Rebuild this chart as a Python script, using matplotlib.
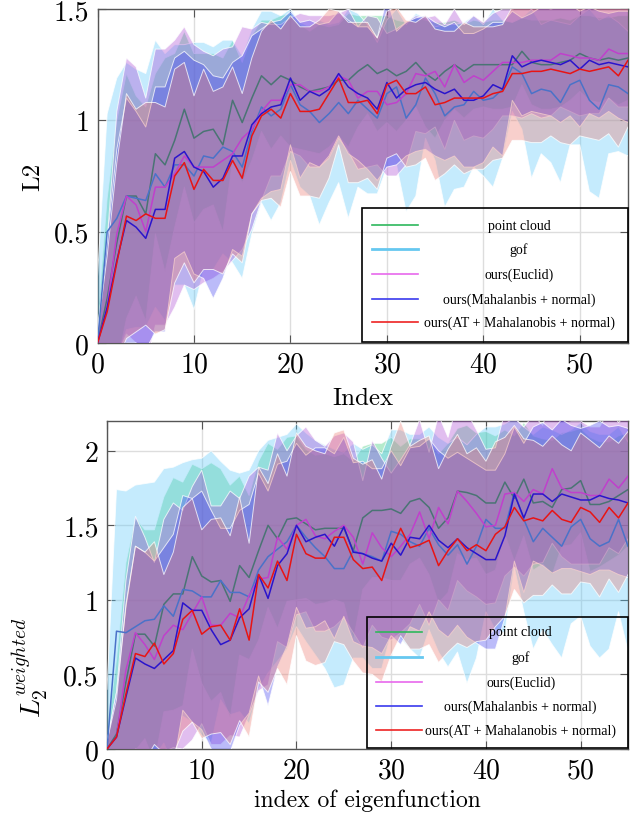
import numpy as np
import matplotlib
matplotlib.use("Agg")
import matplotlib.pyplot as plt
from matplotlib.lines import Line2D
from matplotlib.patches import Rectangle
from matplotlib.ticker import FuncFormatter

plt.rcParams['font.family'] = 'serif'
plt.rcParams['font.serif'] = ['cmr10']
plt.rcParams['mathtext.fontset'] = 'cm'
plt.rcParams['axes.formatter.use_mathtext'] = True

idx = list(range(56))

names = ["point cloud", "gof", "ours(Euclid)", "ours(Mahalanbis + normal)",
         "ours(AT + Mahalanobis + normal)"]
colors = ['#2eb85c', '#66c8f0', '#e868ec', '#3a3aee', '#ee2222']
fill_colors = ['#28c86e', '#5ac8fa', '#aa46d2', '#3c3cf0', '#eb786e']
# how the mean lines look once the later bands lie over them
line_colors = ['#4a7474', '#4a72c8', '#c040cc', '#2a14cc', '#e81414']

# ---- top panel (L2) ----
pc_top = [0.0, 0.2, 0.45, 0.66, 0.66, 0.58, 0.85, 0.80, 0.91, 1.05, 0.92, 0.95, 0.96, 0.89, 1.09, 0.99,
          1.10, 1.20, 1.16, 1.20, 1.18, 1.15, 1.13, 1.14, 1.15, 1.18, 1.18, 1.22, 1.25, 1.21, 1.23, 1.20,
          1.22, 1.26, 1.21, 1.18, 1.22, 1.25, 1.22, 1.25, 1.25, 1.25, 1.25, 1.25, 1.31, 1.26, 1.25, 1.25,
          1.26, 1.27, 1.30, 1.28, 1.27, 1.28, 1.27, 1.28]
gof_top = [0.0, 0.50, 0.56, 0.66, 0.65, 0.64, 0.76, 0.70, 0.80, 0.80, 0.75, 0.84, 0.83, 0.88, 0.86, 0.79,
           0.95, 1.06, 1.02, 1.05, 1.16, 1.07, 1.04, 0.99, 1.03, 1.08, 1.03, 1.09, 1.05, 1.01, 1.12, 1.15,
           1.01, 1.07, 1.19, 1.12, 1.02, 1.06, 1.07, 1.13, 1.09, 1.10, 1.14, 1.24, 1.21, 1.12, 1.14, 1.13,
           1.08, 1.16, 1.18, 1.09, 1.05, 1.16, 1.15, 1.12]
euc_top = [0.0, 0.16, 0.49, 0.66, 0.62, 0.50, 0.70, 0.70, 0.76, 0.84, 0.79, 0.79, 0.79, 0.82, 0.85, 0.92,
           0.96, 1.04, 1.09, 1.09, 1.16, 1.16, 1.13, 1.13, 1.15, 1.20, 1.18, 1.10, 1.13, 1.13, 1.07, 1.08,
           1.12, 1.21, 1.20, 1.22, 1.15, 1.25, 1.17, 1.20, 1.18, 1.22, 1.26, 1.26, 1.26, 1.27, 1.27, 1.27,
           1.30, 1.29, 1.28, 1.28, 1.27, 1.32, 1.30, 1.30]
mah_top = [0.0, 0.16, 0.37, 0.55, 0.52, 0.47, 0.60, 0.60, 0.83, 0.86, 0.79, 0.77, 0.70, 0.74, 0.84, 0.84,
           0.98, 1.03, 1.06, 1.07, 1.19, 1.09, 1.13, 1.11, 1.14, 1.21, 1.15, 1.12, 1.10, 1.05, 1.17, 1.10,
           1.14, 1.16, 1.17, 1.14, 1.12, 1.14, 1.09, 1.09, 1.11, 1.16, 1.14, 1.29, 1.24, 1.26, 1.27, 1.26,
           1.25, 1.27, 1.23, 1.27, 1.25, 1.26, 1.25, 1.24]
at_top = [0.0, 0.14, 0.36, 0.57, 0.55, 0.58, 0.56, 0.56, 0.75, 0.81, 0.69, 0.78, 0.73, 0.73, 0.82, 0.74,
          0.93, 1.02, 1.05, 1.01, 1.12, 1.04, 1.04, 1.05, 1.12, 1.19, 1.08, 1.08, 1.09, 1.03, 1.16, 1.18,
          1.12, 1.12, 1.15, 1.07, 1.08, 1.10, 1.10, 1.10, 1.10, 1.12, 1.13, 1.21, 1.21, 1.22, 1.22, 1.23,
          1.22, 1.21, 1.23, 1.22, 1.23, 1.24, 1.20, 1.27]

pc_top_std = [0.1, 0.45, 0.55, 0.55, 0.45, 0.48, 0.36, 0.48, 0.39, 0.35, 0.38, 0.35, 0.34, 0.39, 0.27, 0.27,
              0.28, 0.25, 0.29, 0.27, 0.30, 0.28, 0.27, 0.29, 0.27, 0.25, 0.30, 0.25, 0.22, 0.26, 0.24, 0.25,
              0.22, 0.20, 0.24, 0.26, 0.22, 0.20, 0.21, 0.20, 0.19, 0.20, 0.20, 0.19, 0.15, 0.19, 0.20, 0.20,
              0.20, 0.18, 0.17, 0.19, 0.19, 0.18, 0.20, 0.19]
gof_top_std = [0.3, 0.53, 0.63, 0.60, 0.58, 0.57, 0.60, 0.60, 0.54, 0.54, 0.60, 0.51, 0.50, 0.48, 0.50, 0.50,
               0.46, 0.43, 0.47, 0.42, 0.34, 0.37, 0.38, 0.46, 0.40, 0.36, 0.47, 0.39, 0.38, 0.34, 0.33, 0.35,
               0.42, 0.41, 0.27, 0.30, 0.41, 0.37, 0.37, 0.34, 0.34, 0.40, 0.31, 0.20, 0.25, 0.38, 0.29, 0.32,
               0.36, 0.27, 0.29, 0.41, 0.40, 0.31, 0.29, 0.28]
euc_top_std = [0.05, 0.30, 0.55, 0.62, 0.62, 0.60, 0.62, 0.62, 0.60, 0.58, 0.55, 0.52, 0.50, 0.50, 0.48, 0.50,
               0.45, 0.40, 0.34, 0.34, 0.30, 0.32, 0.34, 0.34, 0.32, 0.28, 0.32, 0.32, 0.34, 0.33, 0.32, 0.33,
               0.32, 0.26, 0.26, 0.25, 0.28, 0.25, 0.26, 0.27, 0.26, 0.26, 0.24, 0.24, 0.25, 0.24, 0.26, 0.25,
               0.24, 0.25, 0.26, 0.25, 0.24, 0.22, 0.24, 0.24]
mah_top_std = [0.05, 0.30, 0.50, 0.55, 0.52, 0.50, 0.55, 0.55, 0.45, 0.45, 0.48, 0.48, 0.50, 0.45, 0.42, 0.45,
               0.40, 0.38, 0.38, 0.38, 0.30, 0.35, 0.32, 0.32, 0.30, 0.28, 0.30, 0.30, 0.32, 0.32, 0.38, 0.30,
               0.30, 0.30, 0.30, 0.30, 0.30, 0.30, 0.30, 0.30, 0.30, 0.28, 0.30, 0.20, 0.22, 0.22, 0.24, 0.24,
               0.26, 0.25, 0.26, 0.24, 0.24, 0.22, 0.24, 0.25]
at_top_std = [0.05, 0.25, 0.45, 0.55, 0.50, 0.50, 0.52, 0.50, 0.48, 0.45, 0.42, 0.45, 0.40, 0.42, 0.42, 0.38,
              0.35, 0.38, 0.40, 0.40, 0.35, 0.38, 0.38, 0.40, 0.38, 0.30, 0.36, 0.36, 0.35, 0.34, 0.33, 0.33,
              0.33, 0.32, 0.32, 0.34, 0.32, 0.30, 0.34, 0.32, 0.32, 0.30, 0.30, 0.30, 0.30, 0.32, 0.32, 0.30,
              0.32, 0.32, 0.30, 0.30, 0.32, 0.30, 0.32, 0.30]

# ---- bottom panel (weighted L2) ----
pc_bot = [0.0, 0.10, 0.45, 0.77, 0.77, 0.69, 0.97, 1.04, 1.04, 1.29, 1.16, 1.12, 1.13, 0.99, 1.23, 1.15,
          1.33, 1.50, 1.41, 1.54, 1.55, 1.51, 1.47, 1.48, 1.48, 1.48, 1.33, 1.55, 1.60, 1.60, 1.61, 1.58,
          1.66, 1.68, 1.62, 1.48, 1.55, 1.73, 1.72, 1.70, 1.65, 1.65, 1.79, 1.68, 1.81, 1.65, 1.66, 1.62,
          1.74, 1.75, 1.80, 1.64, 1.64, 1.66, 1.70, 1.74]
gof_bot = [0.0, 0.79, 0.78, 0.82, 0.86, 0.87, 0.96, 0.89, 1.07, 1.06, 1.02, 1.02, 1.13, 1.05, 1.05, 1.02,
           1.20, 1.29, 1.34, 1.39, 1.50, 1.42, 1.35, 1.29, 1.21, 1.21, 1.33, 1.31, 1.29, 1.26, 1.46, 1.44,
           1.39, 1.36, 1.48, 1.37, 1.30, 1.37, 1.24, 1.36, 1.54, 1.48, 1.48, 1.72, 1.54, 1.39, 1.48, 1.42,
           1.36, 1.49, 1.54, 1.41, 1.36, 1.39, 1.54, 1.36]
euc_bot = [0.0, 0.08, 0.53, 0.78, 0.70, 0.60, 0.76, 0.83, 0.80, 0.91, 1.02, 0.83, 0.83, 0.91, 0.88, 1.03,
           1.14, 1.15, 1.42, 1.34, 1.50, 1.54, 1.43, 1.41, 1.46, 1.50, 1.42, 1.24, 1.45, 1.35, 1.29, 1.36,
           1.44, 1.59, 1.41, 1.62, 1.51, 1.73, 1.66, 1.58, 1.49, 1.50, 1.71, 1.72, 1.66, 1.74, 1.71, 1.88,
           1.75, 1.72, 1.72, 1.70, 1.70, 1.81, 1.75, 1.83]
mah_bot = [0.0, 0.08, 0.35, 0.61, 0.57, 0.54, 0.60, 0.66, 0.98, 0.93, 0.93, 0.80, 0.70, 0.73, 0.88, 0.94,
           1.17, 1.01, 1.23, 1.31, 1.50, 1.39, 1.42, 1.44, 1.36, 1.49, 1.32, 1.31, 1.28, 1.26, 1.38, 1.30,
           1.42, 1.41, 1.50, 1.40, 1.35, 1.41, 1.35, 1.31, 1.27, 1.27, 1.43, 1.71, 1.55, 1.71, 1.71, 1.66,
           1.71, 1.69, 1.67, 1.67, 1.70, 1.68, 1.67, 1.65]
at_bot = [0.0, 0.08, 0.37, 0.64, 0.62, 0.71, 0.57, 0.64, 0.87, 0.93, 0.77, 0.82, 0.83, 0.73, 0.94, 0.73,
          1.17, 1.08, 1.26, 1.13, 1.44, 1.31, 1.28, 1.28, 1.42, 1.42, 1.27, 1.21, 1.22, 1.13, 1.33, 1.48,
          1.35, 1.37, 1.40, 1.23, 1.33, 1.41, 1.33, 1.37, 1.33, 1.44, 1.49, 1.62, 1.53, 1.55, 1.53, 1.60,
          1.54, 1.52, 1.62, 1.59, 1.52, 1.62, 1.55, 1.65]

pc_bot_std = [0.10, 0.50, 0.80, 0.78, 0.70, 0.78, 0.72, 0.78, 0.75, 0.62, 0.72, 0.80, 0.75, 0.78, 0.60, 0.55,
              0.60, 0.55, 0.60, 0.55, 0.55, 0.50, 0.50, 0.50, 0.48, 0.50, 0.60, 0.48, 0.45, 0.45, 0.48, 0.45,
              0.42, 0.40, 0.45, 0.50, 0.50, 0.42, 0.45, 0.42, 0.48, 0.45, 0.35, 0.42, 0.38, 0.45, 0.42, 0.45,
              0.38, 0.38, 0.35, 0.45, 0.42, 0.40, 0.40, 0.38]
gof_bot_std = [0.40, 0.95, 0.95, 0.95, 0.92, 0.92, 0.92, 1.00, 0.85, 0.88, 0.93, 0.98, 0.80, 0.82, 0.80, 0.85,
               0.80, 0.78, 0.75, 0.72, 0.68, 0.70, 0.72, 0.75, 0.80, 0.78, 0.72, 0.70, 0.75, 0.72, 0.68, 0.70,
               0.72, 0.75, 0.68, 0.72, 0.75, 0.72, 0.80, 0.75, 0.62, 0.68, 0.70, 0.50, 0.62, 0.72, 0.68, 0.72,
               0.75, 0.65, 0.65, 0.72, 0.75, 0.72, 0.62, 0.70]
euc_bot_std = [0.05, 0.30, 0.60, 0.78, 0.72, 0.65, 0.78, 0.82, 0.80, 0.85, 0.85, 0.80, 0.80, 0.82, 0.80, 0.80,
               0.75, 0.72, 0.70, 0.66, 0.60, 0.62, 0.64, 0.62, 0.64, 0.62, 0.64, 0.56, 0.62, 0.60, 0.56, 0.58,
               0.60, 0.62, 0.58, 0.62, 0.58, 0.60, 0.60, 0.56, 0.52, 0.52, 0.55, 0.50, 0.50, 0.50, 0.46, 0.50,
               0.46, 0.48, 0.48, 0.46, 0.46, 0.46, 0.44, 0.42]
mah_bot_std = [0.05, 0.30, 0.60, 0.75, 0.75, 0.72, 0.75, 0.78, 0.72, 0.75, 0.80, 0.80, 0.78, 0.75, 0.72, 0.70,
               0.68, 0.72, 0.68, 0.62, 0.55, 0.58, 0.60, 0.58, 0.62, 0.60, 0.60, 0.62, 0.60, 0.62, 0.62, 0.60,
               0.60, 0.62, 0.58, 0.60, 0.60, 0.58, 0.60, 0.60, 0.60, 0.60, 0.55, 0.45, 0.50, 0.45, 0.48, 0.48,
               0.50, 0.48, 0.48, 0.50, 0.50, 0.48, 0.50, 0.50]
at_bot_std = [0.05, 0.25, 0.60, 0.72, 0.70, 0.68, 0.60, 0.68, 0.75, 0.75, 0.70, 0.72, 0.72, 0.70, 0.75, 0.65,
              0.72, 0.70, 0.72, 0.70, 0.68, 0.72, 0.72, 0.70, 0.70, 0.72, 0.68, 0.70, 0.72, 0.68, 0.70, 0.72,
              0.68, 0.70, 0.70, 0.65, 0.68, 0.70, 0.65, 0.65, 0.60, 0.62, 0.60, 0.55, 0.55, 0.52, 0.50, 0.50,
              0.50, 0.48, 0.50, 0.48, 0.50, 0.48, 0.50, 0.48]


def draw_panel(ax, means, stds, ymax, yticks):
    x = np.array(idx)
    for k, (m, s) in enumerate(zip(means, stds)):
        m = np.array(m)
        s = np.array(s)
        ax.fill_between(x, m - s, m + s, facecolor=fill_colors[k], alpha=0.35,
                        edgecolor='none', zorder=2 + k)
        ax.plot(x, m + s, color='white', lw=0.7, alpha=0.75, zorder=2 + k)
        ax.plot(x, m - s, color='white', lw=0.7, alpha=0.75, zorder=2 + k)
    for k, m in enumerate(means):
        ax.plot(x, m, color=line_colors[k], lw=1.1, zorder=10 + k)
    ax.set_xlim(0, 55)
    ax.set_ylim(0, ymax)
    ax.set_xticks([0, 10, 20, 30, 40, 50])
    ax.set_yticks(yticks)
    ax.yaxis.set_major_formatter(FuncFormatter(lambda v, p: '%g' % v))
    ax.grid(True, color='#dddddd', lw=1.0, zorder=0)
    ax.set_axisbelow(True)
    ax.tick_params(direction='in', length=6, width=0.8, color='#555555',
                   top=True, right=True, labelsize=20, pad=6)
    for sp in ax.spines.values():
        sp.set_color('#555555')
        sp.set_linewidth(1.0)


def draw_legend(ax, box, line_x, text_x, text_y):
    ax.add_patch(Rectangle((box[0], box[1]), box[2] - box[0], box[3] - box[1],
                           transform=ax.transAxes, fill=False, edgecolor='black',
                           lw=1.2, zorder=20, clip_on=False))
    for k, name in enumerate(names):
        lw = 2.0 if k == 1 else 1.2
        ax.add_line(Line2D(line_x, [text_y[k], text_y[k]], transform=ax.transAxes,
                           color=colors[k], lw=lw, zorder=21))
        ax.text(text_x, text_y[k], name, transform=ax.transAxes, ha='center',
                va='center', fontsize=10, family='Liberation Serif', zorder=21)


fig = plt.figure(figsize=(6.37, 8.2), dpi=100)

ax1 = fig.add_axes([0.1531, 0.5805, 0.8328, 0.4073])
draw_panel(ax1, [pc_top, gof_top, euc_top, mah_top, at_top],
           [pc_top_std, gof_top_std, euc_top_std, mah_top_std, at_top_std],
           1.5, [0, 0.5, 1, 1.5])
ax1.set_xlabel('Index', fontsize=18)
ax1.xaxis.set_label_coords(0.5, -0.13)
ax1.set_ylabel('L2', fontsize=18)
ax1.yaxis.set_label_coords(-0.1, 0.5)
draw_legend(ax1, (0.4986, 0.003, 1.0, 0.404), [0.5174, 0.604], 0.7945,
            [0.353, 0.281, 0.2066, 0.1317, 0.0629])

ax2 = fig.add_axes([0.168, 0.0854, 0.8179, 0.4])
draw_panel(ax2, [pc_bot, gof_bot, euc_bot, mah_bot, at_bot],
           [pc_bot_std, gof_bot_std, euc_bot_std, mah_bot_std, at_bot_std],
           2.2, [0, 0.5, 1, 1.5, 2])
ax2.set_xlabel('index of eigenfunction', fontsize=17)
ax2.xaxis.set_label_coords(0.5, -0.12)
ax2.set_ylabel(r'$L_2^{weighted}$', fontsize=20)
ax2.yaxis.set_label_coords(-0.11, 0.25)
draw_legend(ax2, (0.4985, 0.003, 1.0, 0.4024), [0.516, 0.604], 0.794,
            [0.357, 0.2805, 0.204, 0.131, 0.058])

fig.savefig('out.png', dpi=100)
